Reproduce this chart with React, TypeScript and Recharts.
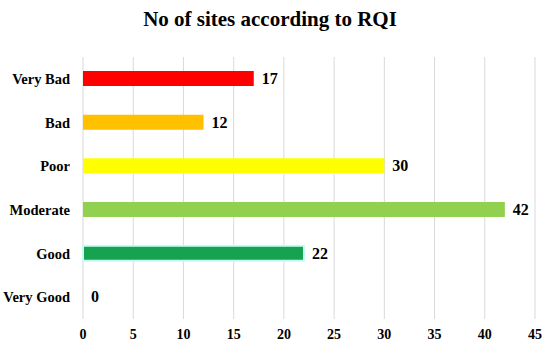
import React from "react";
import { BarChart, Bar, XAxis, YAxis, CartesianGrid, Cell, LabelList } from "recharts";

const categories = ["Very Bad", "Bad", "Poor", "Moderate", "Good", "Very Good"];
const siteCounts = [17, 12, 30, 42, 22, 0];
const barColors = ["#FF0000", "#FFC000", "#FFFF00", "#92D050", "#16A34F", "#00B050"];
const xTicks = [0, 5, 10, 15, 20, 25, 30, 35, 40, 45];

const data = categories.map((name, i) => ({ name, count: siteCounts[i] }));

const font = "'Liberation Serif', 'DejaVu Serif', serif";

// custom label so the zero bar still gets its "0"
const ValueLabel = (props: any) => {
  const { x, y, width, height, value } = props;
  const w = value === 0 ? 0 : Number(width || 0);
  return (
    <text
      x={Number(x) + w + 8}
      y={Number(y) + Number(height) / 2}
      dy="0.35em"
      fill="#000"
      fontFamily={font}
      fontWeight="bold"
      fontSize={16}
    >
      {value}
    </text>
  );
};

const App: React.FC = () => {
  return (
    <div style={{ position: "absolute", left: 0, top: 0, width: 550, height: 348, background: "#fff" }}>
      <div
        style={{
          position: "absolute",
          top: 7,
          left: 0,
          width: 540,
          textAlign: "center",
          fontFamily: font,
          fontWeight: "bold",
          fontSize: 21,
          color: "#000",
        }}
      >
        No of sites according to RQI
      </div>
      <BarChart
        width={550}
        height={348}
        data={data}
        layout="vertical"
        margin={{ top: 57, right: 15, bottom: 0, left: 0 }}
        barSize={15}
      >
        <CartesianGrid horizontal={false} stroke="#d9d9d9" />
        <XAxis
          type="number"
          domain={[0, 45]}
          ticks={xTicks}
          axisLine={false}
          tickLine={false}
          height={29}
          tickMargin={4}
          tick={{ fill: "#000", fontFamily: font, fontWeight: "bold", fontSize: 14 }}
        />
        <YAxis
          type="category"
          dataKey="name"
          width={83}
          axisLine={false}
          tickLine={false}
          tickMargin={7}
          tick={{ fill: "#000", fontFamily: font, fontWeight: "bold", fontSize: 14.5 }}
        />
        <Bar dataKey="count" isAnimationActive={false} minPointSize={1}>
          {data.map((d, i) => (
            <Cell
              key={d.name}
              fill={d.count === 0 ? "transparent" : barColors[i]}
              stroke={d.name === "Good" ? "#c8fbf3" : "none"}
              strokeWidth={d.name === "Good" ? 2 : 0}
            />
          ))}
          <LabelList dataKey="count" content={ValueLabel} />
        </Bar>
      </BarChart>
    </div>
  );
};

export default App;
